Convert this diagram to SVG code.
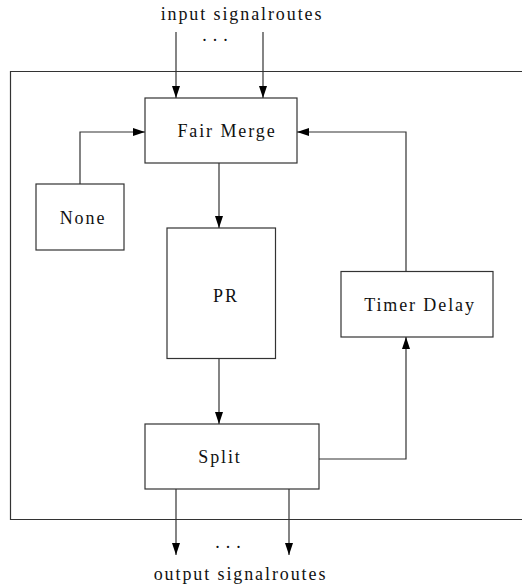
<svg xmlns="http://www.w3.org/2000/svg" width="522" height="588" viewBox="0 0 522 588">
<defs>
<style>
.box{fill:#fff;stroke:#333;stroke-width:1.2}
.ln{fill:none;stroke:#333;stroke-width:1.2}
.t{font-family:"Liberation Serif","Times New Roman",serif;font-size:18px;letter-spacing:1.9px;fill:#111;text-anchor:middle}
.d{font-family:"Liberation Serif","Times New Roman",serif;font-size:18px;letter-spacing:6px;fill:#111;text-anchor:middle}
</style>
<marker id="ah" viewBox="0 0 12 8" refX="12" refY="4" markerWidth="12" markerHeight="8" markerUnits="userSpaceOnUse" orient="auto">
<path d="M0,0 L12,4 L0,8 Z" fill="#000"/>
</marker>
</defs>
<rect width="522" height="588" fill="#fff"/>
<g id="frame">
<path class="ln" d="M522,71.5 H10.5 V519.5 H522"/>
</g>
<g id="input-label">
<text class="t" x="242" y="20">input signalroutes</text>
<text class="d" x="218" y="41">...</text>
</g>
<g id="fair-merge">
<rect class="box" x="145" y="98" width="152" height="65"/>
<text class="t" x="227" y="137">Fair Merge</text>
</g>
<g id="none">
<rect class="box" x="36" y="184" width="88" height="66"/>
<text class="t" x="83" y="224">None</text>
</g>
<g id="pr">
<rect class="box" x="167" y="228" width="108.5" height="130.5"/>
<text class="t" x="226" y="302">PR</text>
</g>
<g id="timer-delay">
<rect class="box" x="341" y="271.5" width="152" height="65.5"/>
<text class="t" x="420" y="311">Timer Delay</text>
</g>
<g id="split">
<rect class="box" x="145" y="424" width="174" height="65"/>
<text class="t" x="220" y="463">Split</text>
</g>
<g id="output-label">
<text class="d" x="231" y="548">...</text>
<text class="t" x="240.5" y="580">output signalroutes</text>
</g>
<g id="connectors">
<path class="ln" d="M176,32 V98" marker-end="url(#ah)"/>
<path class="ln" d="M263,32 V98" marker-end="url(#ah)"/>
<path class="ln" d="M80,184 V132 H145" marker-end="url(#ah)"/>
<path class="ln" d="M406,271.5 V132 H297" marker-end="url(#ah)"/>
<path class="ln" d="M219,163 V228" marker-end="url(#ah)"/>
<path class="ln" d="M219,358.5 V424" marker-end="url(#ah)"/>
<path class="ln" d="M319,459 H406 V337" marker-end="url(#ah)"/>
<path class="ln" d="M176,489 V555" marker-end="url(#ah)"/>
<path class="ln" d="M289,489 V555" marker-end="url(#ah)"/>
</g>
</svg>
